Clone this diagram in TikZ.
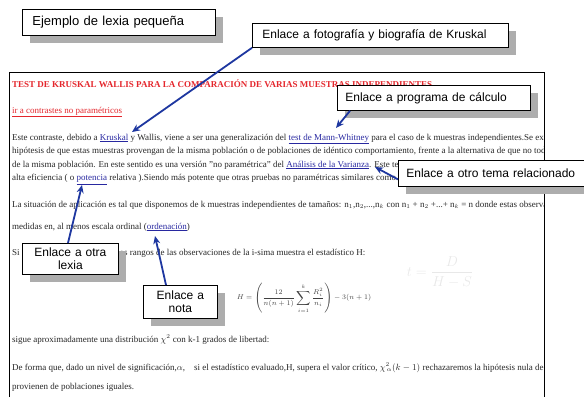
\documentclass[tikz,border=0pt]{standalone}
\usepackage{fontspec}
\setmainfont{Liberation Serif}
\newfontfamily\calloutfont{Liberation Sans}
\usetikzlibrary{arrows.meta,shadows}

\definecolor{titlered}{RGB}{228,38,44}
\definecolor{linkblue}{RGB}{40,40,160}
\definecolor{arrowblue}{RGB}{30,55,160}
\newcommand{\lnk}[1]{\textcolor{linkblue}{\underline{#1}}}

\tikzset{
  callout/.style={draw=black, line width=0.8pt, fill=white, anchor=north west,
    font=\calloutfont\fontsize{12}{13}\selectfont, align=left,
    inner xsep=10pt, inner ysep=0pt, minimum height=25pt,
    drop shadow={shadow xshift=8pt, shadow yshift=-8pt, fill=black!32, opacity=1}},
  linkarrow/.style={draw=arrowblue, line width=1.8pt, -{Stealth[length=8pt,width=7pt]}},
  bodyline/.style={anchor=base west, inner sep=0pt, text=black!85,
    font=\fontsize{9}{11}\selectfont},
}

\begin{document}
\begin{tikzpicture}[x=1pt,y=-1pt]
  \useasboundingbox (0,0) rectangle (584,397);
  %% faint background of the page
  \node[text=black!9, font=\fontsize{14}{16}\selectfont] (marca) at (440,272)
    {$t=\displaystyle\frac{D}{H-S}$};
  %% page frame
  \draw[line width=0.8pt] (9,397) -- (9,72) -- (544,72) -- (544,397);
  %% page text, cut at the frame
  \begin{scope}
    \clip (10,73) rectangle (543,397);
    \node[bodyline, text=titlered, font=\bfseries\fontsize{9}{11}\selectfont] (titulo) at (12,87)
      {TEST DE KRUSKAL WALLIS PARA LA COMPARACIÓN DE VARIAS MUESTRAS INDEPENDIENTES};
    \node[bodyline, text=titlered] (volver) at (12,113) {\underline{ir a contrastes no paramétricos}};
    \node[bodyline] (linea1) at (12,140) {Este contraste, debido a \lnk{Kruskal} y Wallis, viene a ser una generalización del \lnk{test de Mann-Whitney} para el caso de k muestras independientes.Se ex};
    \node[bodyline] (linea2) at (12,153.5) {hipótesis de que estas muestras provengan de la misma población o de poblaciones de idéntico comportamiento, frente a la alternativa de que no tod};
    \node[bodyline] (linea3) at (12,167) {de la misma población. En este sentido es una versión "no paramétrica" del \lnk{Análisis de la Varianza}. Este test};
    \node[bodyline] (linea4) at (12,180.5) {alta eficiencia ( o \lnk{potencia} relativa ).Siendo más potente que otras pruebas no paramétricas similares como};
    \node[bodyline] (linea5) at (12,207) {La situación de aplicación es tal que disponemos de k muestras independientes de tamaños: n$_1$,n$_2$,...,n$_k$ con n$_1$ + n$_2$ +...+ n$_k$ = n donde estas observac};
    \node[bodyline] (linea6) at (12,229) {medidas en, al menos escala ordinal (\lnk{ordenación})};
    \node[bodyline] (linea7a) at (12,255) {Si};
    \node[bodyline] (linea7b) at (117,255) {los rangos de las observaciones de la i-sima muestra el estadístico H:};
    \node[text=black!75, font=\fontsize{7}{9}\selectfont] (formula) at (304,298)
      {$H=\left(\displaystyle\frac{12}{n(n+1)}\sum_{i=1}^{k}\frac{R_i^2}{n_i}\right)-3(n+1)$};
    \node[bodyline] (linea8) at (12,342) {sigue aproximadamente una distribución $\chi^2$ con k-1 grados de libertad:};
    \node[bodyline] (linea9) at (12,370) {De forma que, dado un nivel de significación,$\alpha$,\quad si el estadístico evaluado,H, supera el valor crítico, $\chi^{2}_{\,\alpha}(k-1)$ rechazaremos la hipótesis nula de que};
    \node[bodyline] (linea10) at (12,389) {provienen de poblaciones iguales.};
  \end{scope}
  %% where the arrows point
  \coordinate (aKruskal) at (132,132);
  \coordinate (aMann) at (336,128);
  \coordinate (aVarianza) at (375,167);
  \coordinate (aPotencia) at (82,185);
  \coordinate (aOrden) at (155,236);
  %% callouts
  \node[callout, text width=173pt, minimum height=26pt, font=\calloutfont\fontsize{13}{14}\selectfont] (ejemplo) at (22,9) {Ejemplo de lexia pequeña};
  \node[callout, text width=236pt, minimum height=24pt] (kruskal) at (252,23) {Enlace a fotografía y biografía de Kruskal};
  \node[callout, text width=177pt, inner xsep=8pt] (programa) at (337,85) {Enlace a programa de cálculo};
  \node[callout, text width=172pt, inner xsep=8pt, minimum height=26pt] (otrotema) at (398,160) {Enlace a otro tema relacionado};
  \node[callout, text width=76pt, align=center, minimum height=31pt] (lexia) at (22,243) {Enlace a otra\\lexia};
  \node[callout, text width=54pt, align=center, minimum height=33pt] (nota) at (143,285) {Enlace a\\nota};
  %% arrows to the links
  \draw[linkarrow] (kruskal.south west) -- (aKruskal);
  \draw[linkarrow] ([xshift=13pt]programa.south west) -- (aMann);
  \draw[linkarrow] ([yshift=-6pt]otrotema.west) -- (aVarianza);
  \draw[linkarrow] ([xshift=46pt]lexia.north west) -- (aPotencia);
  \draw[linkarrow] ([xshift=23pt]nota.north west) -- (aOrden);
\end{tikzpicture}
\end{document}
